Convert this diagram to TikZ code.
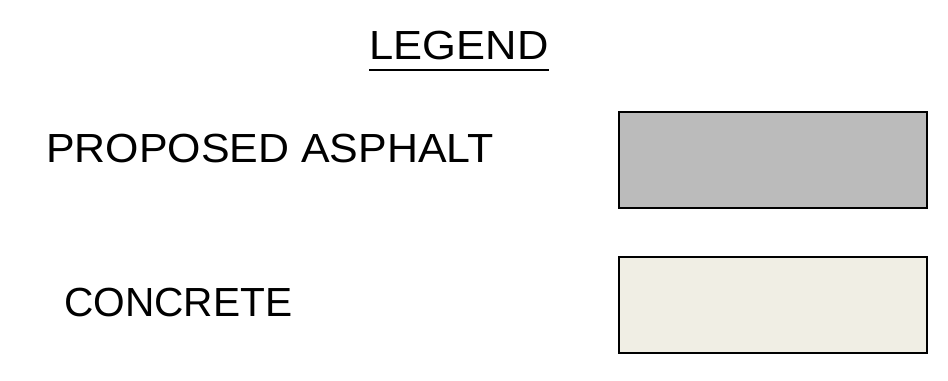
\documentclass[tikz,border=0pt]{standalone}
\usepackage{fontspec}
\setmainfont{Liberation Sans}
\usepackage{tikz}
\usetikzlibrary{positioning}

\definecolor{asphaltgray}{HTML}{BBBBBB}
\definecolor{concretetan}{HTML}{F0EEE4}

\begin{document}
\begin{tikzpicture}[x=0.75pt,y=-0.75pt,
  label text/.style={inner sep=0pt,font=\fontsize{30.5}{36}\selectfont},
  swatch/.style={draw=black,line width=1.6pt,minimum width=231pt,minimum height=72pt,inner sep=0pt}]

  \useasboundingbox (0,0) rectangle (948,380);

  \node[label text,anchor=base,xscale=1.07] (title) at (459,59) {LEGEND};
  \path (title.base west) ++(0,-8.5pt) coordinate (ul1)
    (title.base east) ++(0,-8.5pt) coordinate (ul2);
  \draw[line width=1.5pt] (ul1) -- (ul2);

  \node[label text,anchor=base west,xscale=1.055] (asphalt) at (46,162) {PROPOSED ASPHALT};
  \node[label text,anchor=base west] (concrete) at (64,316) {CONCRETE};

  \node[swatch,fill=asphaltgray] (asphaltbox) at (773,160) {};
  \node[swatch,fill=concretetan] (concretebox) at (773,305) {};
\end{tikzpicture}
\end{document}
